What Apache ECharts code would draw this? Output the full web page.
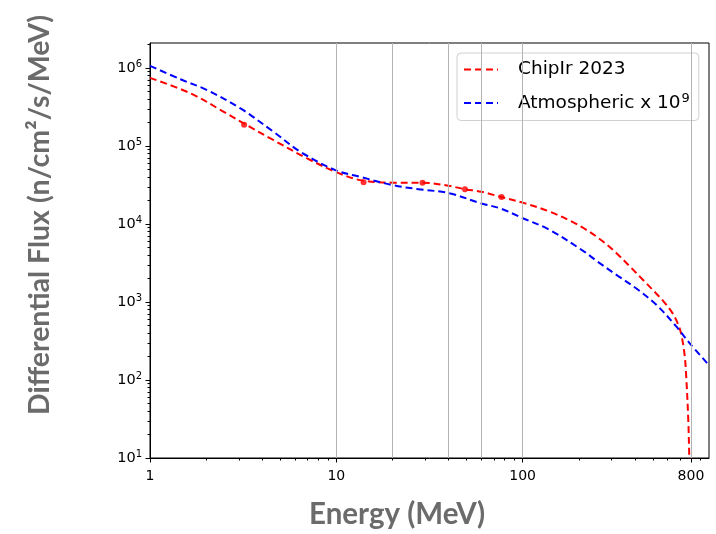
<!DOCTYPE html>
<html>
<head>
<meta charset="utf-8">
<script src="https://cdn.jsdelivr.net/npm/echarts@6/dist/echarts.min.js"></script>
<style>
  html, body { margin: 0; padding: 0; background: #fff; }
  #main { width: 716px; height: 534px; }
</style>
</head>
<body>
<div id="main"></div>
<script>
// energy (MeV) and differential flux
var chipirEnergy = [1, 1.65, 2.49, 3.25, 4.61, 6.97, 9.88, 13.45, 20, 29, 40, 49, 60, 75.7, 101, 140, 180, 212, 260, 320, 374, 440, 499, 570, 638, 680, 708, 738, 753, 774, 784, 790];
var chipirFlux   = [7.5e5, 4.75e5, 2.75e5, 1.9e5, 1.19e5, 6.95e4, 4.69e4, 3.66e4, 3.4e4, 3.4e4, 3.1e4, 2.8e4, 2.6e4, 2.24e4, 1.87e4, 1.44e4, 1.1e4, 8.9e3, 6.4e3, 4.2e3, 2.9e3, 1.95e3, 1.43e3, 1.02e3, 716, 530, 397, 220, 122, 31, 10, 5];
// measured points (red dots)
var chipirPtsE = [3.2, 14, 29, 49, 77];
var chipirPtsF = [1.88e5, 3.45e4, 3.4e4, 2.8e4, 2.22e4];

var atmoEnergy = [1, 1.457, 2.026, 3.06, 4.61, 6.41, 9.88, 13.45, 20, 27.6, 40, 60, 75.7, 101, 140, 212, 248, 317, 406, 520, 665, 784, 1000];
var atmoFlux   = [1.07e6, 7.2e5, 5.22e5, 3.04e5, 1.52e5, 8.45e4, 4.92e4, 4.03e4, 3.16e4, 2.8e4, 2.5e4, 1.84e4, 1.59e4, 1.18e4, 8.4e3, 4.5e3, 3.4e3, 2.25e3, 1.5e3, 930, 490, 300, 155];

// axis ticks
var xLabels = [1, 10, 100, 800];
var yLabels = [10, 100, 1000, 10000, 100000, 1000000];
var vLines = [10, 20, 40, 60, 100, 800];

var xMinor = [];
[1, 10, 100].forEach(function (d) {
  for (var k = 2; k <= 9; k++) xMinor.push(k * d);
});
var yMinor = [];
[10, 100, 1000, 10000, 100000, 1000000].forEach(function (d) {
  for (var k = 2; k <= 9; k++) if (k * d <= 2.1e6) yMinor.push(k * d);
});

function pairs(a, b) {
  return a.map(function (v, i) { return [v, b[i]]; });
}

var chart = echarts.init(document.getElementById('main'));

var tickFont = 'DejaVu Sans';
var dash = [7, 4];

var option = {
  backgroundColor: '#fff',
  animation: false,
  grid: {
    left: 150, top: 43, right: 7, bottom: 76,
    show: true, borderColor: '#000', borderWidth: 1
  },
  legend: {
    data: ['ChipIr 2023', 'Atmospheric x 10^9'],
    orient: 'vertical',
    left: 457, top: 53,
    padding: [7, 9, 8, 6],
    itemGap: 13,
    itemWidth: 34, itemHeight: 14,
    itemStyle: { opacity: 0, borderWidth: 0 },
    backgroundColor: 'rgba(255,255,255,0.8)',
    borderColor: '#d0d0d0', borderWidth: 1, borderRadius: 4,
    formatter: function (name) {
      if (name === 'ChipIr 2023') return '{t|ChipIr 2023}';
      return '{t|Atmospheric x 10}{s|9}';
    },
    textStyle: {
      rich: {
        t: { fontFamily: tickFont, fontSize: 18.5, color: '#000', padding: [0, 0, 0, 15] },
        s: { fontFamily: tickFont, fontSize: 13, color: '#000', verticalAlign: 'top', padding: [0, 0, 9, 1] }
      }
    }
  },
  xAxis: [{
    type: 'log', min: 1, max: 1000, logBase: 10,
    position: 'bottom',
    axisLine: { show: true, lineStyle: { color: '#000', width: 1 } },
    axisTick: { show: true, inside: false, customValues: xLabels.concat(xMinor), length: 2.5, lineStyle: { color: '#000' } },
    axisLabel: {
      customValues: xLabels, margin: 11,
      fontFamily: tickFont, fontSize: 14, color: '#000',
      formatter: function (v) { return String(Math.round(v)); }
    },
    splitLine: { show: false }
  }, {
    type: 'log', min: 1, max: 1000, logBase: 10,
    position: 'bottom',
    axisLine: { show: false },
    axisTick: { show: true, inside: false, customValues: xLabels, length: 4.5, lineStyle: { color: '#000' } },
    axisLabel: { show: false },
    splitLine: { show: false }
  }],
  yAxis: [{
    type: 'log', min: 10, max: 2.1e6, logBase: 10,
    position: 'left',
    axisLine: { show: true, lineStyle: { color: '#000', width: 1 } },
    axisTick: { show: true, inside: false, customValues: yLabels.concat(yMinor), length: 2.5, lineStyle: { color: '#000' } },
    axisLabel: {
      customValues: yLabels, margin: 8,
      formatter: function (v) {
        return '{b|10}{s|' + Math.round(Math.log10(v)) + '}';
      },
      rich: {
        b: { fontFamily: tickFont, fontSize: 14.5, color: '#000' },
        s: { fontFamily: tickFont, fontSize: 10, color: '#000', verticalAlign: 'top', padding: [0, 0, 7, 0] }
      }
    },
    splitLine: { show: false }
  }, {
    type: 'log', min: 10, max: 2.1e6, logBase: 10,
    position: 'left',
    axisLine: { show: false },
    axisTick: { show: true, inside: false, customValues: yLabels, length: 4.5, lineStyle: { color: '#000' } },
    axisLabel: { show: false },
    splitLine: { show: false }
  }],
  series: [{
    name: 'grid',
    type: 'line',
    data: [],
    silent: true,
    markLine: {
      silent: true,
      symbol: 'none',
      label: { show: false },
      lineStyle: { color: '#b4b4b4', width: 1, type: 'solid' },
      data: vLines.map(function (v) { return { xAxis: v }; })
    }
  }, {
    name: 'ChipIr 2023',
    type: 'line',
    data: pairs(chipirEnergy, chipirFlux),
    smooth: 0.35,
    symbol: 'none',
    clip: true,
    lineStyle: { color: '#ff0000', width: 2, type: dash },
    itemStyle: { color: '#ff0000' },
    z: 3
  }, {
    name: 'Atmospheric x 10^9',
    type: 'line',
    data: pairs(atmoEnergy, atmoFlux),
    smooth: 0.35,
    symbol: 'none',
    clip: true,
    lineStyle: { color: '#0000ff', width: 2, type: dash },
    itemStyle: { color: '#0000ff' },
    z: 3
  }, {
    name: 'ChipIr points',
    type: 'scatter',
    data: pairs(chipirPtsE, chipirPtsF),
    symbol: 'circle',
    symbolSize: 6,
    itemStyle: { color: '#ff0000' },
    z: 4
  }],
  graphic: [{
    type: 'text',
    x: 397, y: 514,
    style: {
      text: 'Energy (MeV)',
      fontFamily: 'Lato', fontWeight: 'bold', fontSize: 29.5,
      fill: '#6b6b6b', textAlign: 'center', textVerticalAlign: 'middle'
    }
  }, {
    type: 'text',
    x: 40, y: 215,
    rotation: Math.PI / 2,
    style: {
      text: 'Differential Flux (n/cm²/s/MeV)',
      fontFamily: 'Lato', fontWeight: 'bold', fontSize: 28.5,
      fill: '#6b6b6b', textAlign: 'center', textVerticalAlign: 'middle'
    }
  }]
};

chart.setOption(option);
</script>
</body>
</html>
